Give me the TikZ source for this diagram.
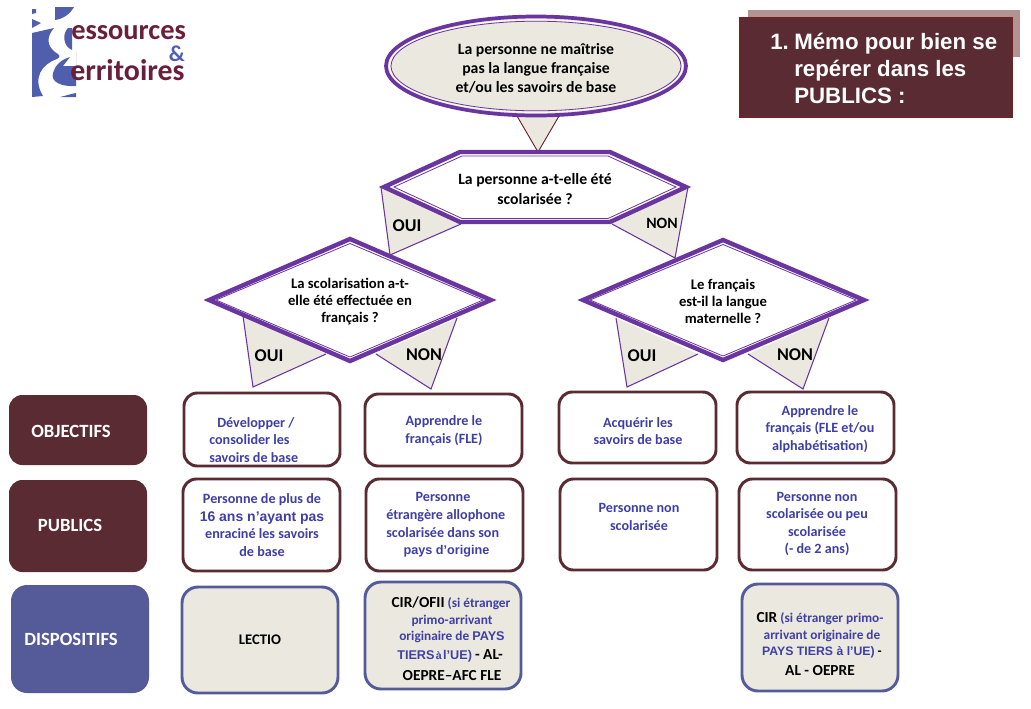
\documentclass[tikz,border=0pt]{standalone}
\usepackage{fontspec}
\setmainfont{Carlito}
\newfontfamily\arialf{Liberation Sans}
\definecolor{purp}{HTML}{6A35A0}
\definecolor{beige}{HTML}{EBE9DF}
\definecolor{maroon}{HTML}{5B2B33}
\definecolor{maroonb}{HTML}{6B2528}
\definecolor{shad}{HTML}{B39391}
\definecolor{bluef}{HTML}{555B99}
\definecolor{bluet}{HTML}{3F3FA6}
\definecolor{logob}{HTML}{4F5FAE}
\definecolor{logor}{HTML}{6A1F38}
\newcommand{\hs}[2]{\fontsize{#1}{#2}\selectfont}
\tikzset{
 x=0.75pt,y=-0.75pt,
 tailline/.style={draw=purp,line width=0.8pt,line join=miter},
 tailb/.style={draw=maroonb,line width=0.7pt},
 outer/.style={draw=purp,line width=3.3pt,fill=white,line join=miter},
 inner/.style={draw=purp,line width=0.6pt},
 q/.style={font=\bfseries\hs{11.8}{14.3},text=black,align=center},
 dq/.style={font=\bfseries\hs{11}{13},text=black,align=center},
 sidet/.style={text=white,font=\bfseries\hs{14}{16}},
 goal/.style={draw=maroon,line width=2.2pt,rounded corners=10pt,fill=white},
 disp/.style={draw=bluef,line width=2.2pt,rounded corners=12pt,fill=beige},
 txt/.style={font=\bfseries\hs{10.6}{13.2},text=bluet,align=center},
 yn/.style={font=\bfseries\hs{13.5}{15},text=black},
 titlet/.style={anchor=base west,inner sep=0,text=white,font=\arialf\bfseries\hs{16.7}{20}},
 dl/.style={inner sep=0,anchor=base,text=bluet,font=\bfseries\hs{10}{12}},
}
\begin{document}
\begin{tikzpicture}
\useasboundingbox (0,0) rectangle (1031,708);
% logo
\fill[logob] (55,7) -- (74,7) .. controls (70,14) and (63,19) .. (55,20) -- cycle;
\fill[logob] (32,9) -- (36,9) -- (36,13) -- (32,14) -- cycle;
\fill[logob] (32,19) -- (41,23) -- (32,28) -- cycle;
\fill[logob] (32,33) -- (54,28) .. controls (47,36) and (46,45) .. (55,52) .. controls (60,55) and (61,57) .. (57,59) .. controls (42,64) and (32,78) .. (43,96) -- (32,97) -- cycle;
\fill[logob] (76,52) -- (76,86) .. controls (62,87) and (50,82) .. (53,73) .. controls (55,66) and (60,60) .. (70,57) -- (63,66) -- (76,66) -- cycle;
\fill[logob] (60,97) .. controls (65,96) and (70,94) .. (76,93) -- (76,97) -- cycle;
\fill[logob] (68,28) .. controls (62,34) and (63,46) .. (72,50) -- (72,28) -- cycle;
\node[anchor=base west,inner sep=0,text=logor,font=\bfseries\hs{21.3}{22}] (logo1) at (71,39) {essources};
\node[anchor=base east,inner sep=0,text=logob,font=\bfseries\hs{17}{18}] (logo2) at (185,61) {\&};
\node[anchor=base west,inner sep=0,text=logor,font=\bfseries\hs{22.4}{22}] (logo3) at (70,80) {erritoires};
% title
\fill[shad] (748,10) rectangle (1020,57);
\draw[fill=maroon,draw=maroonb,line width=0.8pt] (740,18) rectangle (1012,117);
\node[titlet] (t1) at (770,49) {1.};
\node[titlet] (t2) at (794,49) {Mémo pour bien se};
\node[titlet] (t3) at (794,76) {repérer dans les};
\node[titlet] (t4) at (794,103) {PUBLICS :};
% tails
\fill[beige] (517,116) -- (559,116) -- (538,152) -- cycle;
\draw[tailb] (517,116) -- (538,152) -- (559,116);
\fill[beige] (381,187) -- (390,255) -- (461,224) -- cycle;
\draw[tailline] (381,187) -- (390,255) -- (461,224);
\fill[beige] (688,187) -- (675,258) -- (612,224) -- cycle;
\draw[tailline] (688,187) -- (675,258) -- (612,224);
\fill[beige] (243,316) -- (253,387) -- (326,354) -- cycle;
\draw[tailline] (243,316) -- (253,387) -- (326,354);
\fill[beige] (457,318) -- (431,389) -- (376,354) -- cycle;
\draw[tailline] (457,318) -- (431,389) -- (376,354);
\fill[beige] (616,318) -- (627,387) -- (698,354) -- cycle;
\draw[tailline] (616,318) -- (627,387) -- (698,354);
\fill[beige] (829,318) -- (803,389) -- (748,354) -- cycle;
\draw[tailline] (829,318) -- (803,389) -- (748,354);
% ellipse
\draw[draw=purp,line width=2.8pt,fill=beige] (536,66) ellipse [x radius=150,y radius=49.5];
\draw[draw=white,line width=0.7pt] (536,66) ellipse [x radius=146.6,y radius=46.2];
\draw[inner] (536,66) ellipse [x radius=145,y radius=44.8];
\node[q] (e) at (536,68) {La personne ne maîtrise\\pas la langue française\\et/ou les savoirs de base};
% hexagon
\draw[outer] (460,152) -- (610,152) -- (686,187) -- (610,222) -- (460,222) -- (384,187) -- cycle;
\draw[inner] (462,156) -- (608,156) -- (676,187) -- (608,218.5) -- (462,218.5) -- (394,187) -- cycle;
\node[q] (h) at (535,189) {La personne a-t-elle été\\scolarisée ?};
% diamonds
\draw[outer] (350,239) -- (491,300) -- (350,361) -- (209,300) -- cycle;
\draw[inner] (350,243.5) -- (483,300) -- (350,357) -- (216,300) -- cycle;
\node[dq] (d1) at (350,301.5) {La scolarisation a-t-\\elle été effectuée en\\français ?};
\draw[outer] (723,240) -- (864,300) -- (723,360) -- (583,300) -- cycle;
\draw[inner] (723,244.5) -- (856,300) -- (723,356) -- (590,300) -- cycle;
\node[dq] (d2) at (723,301.5) {Le français\\est-il la langue\\maternelle ?};
% yes/no
\node[yn] (y1) at (407,226) {OUI};
\node[yn,font=\bfseries\hs{11.8}{14}] (n1) at (662,223) {NON};
\node[yn] (y2) at (269,356) {OUI};
\node[yn] (n2) at (424,355) {NON};
\node[yn] (y3) at (642,356) {OUI};
\node[yn] (n3) at (795,355) {NON};
% side boxes
\fill[maroon,rounded corners=10pt] (9,395) rectangle (147,465);
\node[sidet] (o) at (71,431) {OBJECTIFS};
\fill[maroon,rounded corners=10pt] (9,480) rectangle (147,572);
\node[sidet] (p) at (70,525) {PUBLICS};
\fill[bluef,rounded corners=12pt] (11,585) rectangle (149,693);
\node[sidet] (di) at (71,639) {DISPOSITIFS};
% objectifs
\draw[goal] (184,393) rectangle (340,466);
\node[txt,align=left,anchor=west,inner sep=0] (a1) at (209,440) {\hspace*{6pt}Développer /\\consolider les\\savoirs de base};
\draw[goal] (365,394) rectangle (522,466);
\node[txt] (a2) at (444,431) {Apprendre le\\français (FLE)};
\draw[goal] (559,392) rectangle (716,463);
\node[txt] (a3) at (638,431) {Acquérir les\\savoirs de base};
\draw[goal] (737,392) rectangle (894,463);
\node[txt] (a4) at (820,429) {Apprendre le\\français (FLE et/ou\\alphabétisation)};
% publics
\draw[goal] (183,479) rectangle (340,571);
\node[txt] (b1) at (262,525) {Personne de plus de\\{\arialf\hs{10.5}{13.2}16 ans n’ayant pas}\\enraciné les savoirs\\de base};
\draw[goal] (366,479) rectangle (523,571);
\node[txt,align=left,anchor=west,inner sep=0] (b2) at (386,525) {\hspace*{22pt}Personne\\étrangère allophone\\scolarisée dans son\\\hspace*{13pt}{\arialf\hs{9.5}{13.2}pays d’origine}};
\draw[goal] (560,479) rectangle (717,570);
\node[txt] (b3) at (639,517) {Personne non\\scolarisée};
\draw[goal] (739,479) rectangle (896,570);
\node[txt] (b4) at (817,524) {Personne non\\scolarisée ou peu\\scolarisée\\(- de 2 ans)};
% dispositifs
\draw[disp] (182,587) rectangle (338,693);
\node[font=\bfseries\hs{11}{14},text=black] (c1) at (260,640) {LECTIO};
\draw[disp] (365,582) rectangle (521,689);
\node[dl] (c2a) at (451,607) {{\color{black}\hs{11.5}{14}CIR/OFII} {\hs{10}{13}(si étranger}};
\node[dl] (c2b) at (452,624) {primo-arrivant};
\node[dl] (c2c) at (452,640) {originaire de {\arialf\hs{9.5}{12}PAYS}};
\node[dl] (c2d) at (450,659) {{\arialf\hs{9.5}{12}TIERS\hspace{1pt}{\hs{8}{12}à}\hspace{1pt}l’UE)} {\color{black}\hs{11.5}{14}- AL-}};
\node[dl,text=black,font=\bfseries\hs{11.5}{14}] (c2e) at (452,680) {OEPRE–AFC FLE};
\draw[disp] (742,584) rectangle (898,691);
\node[dl] (c4a) at (820,622) {{\color{black}\hs{11.5}{14}CIR} (si étranger primo-};
\node[dl] (c4b) at (822,639) {arrivant originaire de};
\node[dl] (c4c) at (822,655) {{\arialf\hs{9.2}{12}PAYS TIERS à l’UE)} {\color{black}-}};
\node[dl,text=black,font=\bfseries\hs{11.5}{14}] (c4d) at (820,675) {AL - OEPRE};
\end{tikzpicture}
\end{document}
